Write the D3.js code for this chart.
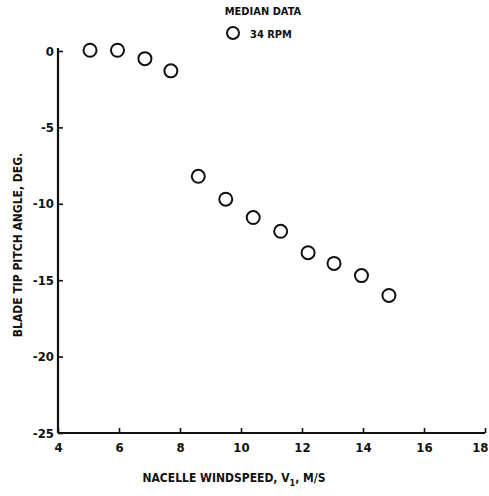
<!DOCTYPE html>
<html>
<head>
<meta charset="utf-8">
<script src="https://cdn.jsdelivr.net/npm/d3@7"></script>
<style>
body { margin: 0; background: #fff; }
text { font-family: "DejaVu Sans Condensed", "Liberation Sans Narrow", sans-serif; font-weight: bold; fill: #111; }
</style>
</head>
<body>
<svg id="chart" width="489" height="496"></svg>
<script>
// median data, 34 rpm
var windspeed = [5.05, 5.95, 6.85, 7.7, 8.6, 9.5, 10.4, 11.3, 12.2, 13.05, 13.95, 14.85];
var pitch = [0.05, 0.05, -0.5, -1.3, -8.2, -9.7, -10.9, -11.8, -13.2, -13.9, -14.7, -16.0];
var xTicks = [4, 6, 8, 10, 12, 14, 16, 18];
var yTicks = [0, -5, -10, -15, -20, -25];

var svg = d3.select("#chart");

var x = d3.scaleLinear().domain([4, 18]).range([58, 485]);
var y = d3.scaleLinear().domain([-25, 0]).range([433, 51]);

// axes - ticks point inward
var xAxis = d3.axisBottom(x).tickValues(xTicks).tickSize(-5).tickPadding(10).tickFormat(d3.format("d"));
var yAxis = d3.axisLeft(y).tickValues(yTicks).tickSize(-5).tickPadding(4).tickFormat(d => d);

var gx = svg.append("g").attr("transform", `translate(0,${y(-25)})`).call(xAxis);
var gy = svg.append("g").attr("transform", `translate(${x(4)},0)`).call(yAxis);

[gx, gy].forEach(function(g) {
    g.select(".domain").attr("stroke", "#111").attr("stroke-width", 2.2);
    g.selectAll(".tick line").attr("stroke", "#111").attr("stroke-width", 1.6);
    g.selectAll(".tick text").style("font-size", "13px").style("font-family", "DejaVu Sans Condensed");
});
gx.select(".domain").attr("d", `M${x(4)},0H${x(18)}`);
gy.select(".domain").attr("d", `M0,${y(-25)}V${y(0) - 3}`);
// last x label sits at the page edge
gx.selectAll(".tick text").filter(d => d === 18).attr("text-anchor", "end").attr("dx", 3);

// points
svg.append("g")
    .selectAll("circle")
    .data(windspeed)
    .join("circle")
    .attr("cx", d => x(d))
    .attr("cy", (d, i) => y(pitch[i]))
    .attr("r", 6.5)
    .attr("fill", "none")
    .attr("stroke", "#111")
    .attr("stroke-width", 2);

// title + legend
svg.append("text")
    .attr("x", 263).attr("y", 15)
    .attr("text-anchor", "middle")
    .style("font-size", "11px")
    .text("MEDIAN DATA");

svg.append("circle")
    .attr("cx", 233).attr("cy", 33).attr("r", 6)
    .attr("fill", "none").attr("stroke", "#111").attr("stroke-width", 2);

svg.append("text")
    .attr("x", 250).attr("y", 38)
    .style("font-size", "11px")
    .text("34 RPM");

// axis titles
var xl = svg.append("text")
    .attr("x", 234).attr("y", 482)
    .attr("text-anchor", "middle")
    .style("font-size", "12px");
xl.append("tspan").text("NACELLE WINDSPEED, V");
xl.append("tspan").attr("dy", 4).style("font-size", "9px").text("1");
xl.append("tspan").attr("dy", -4).text(", M/S");

svg.append("text")
    .attr("transform", "translate(22,245) rotate(-90)")
    .attr("text-anchor", "middle")
    .style("font-size", "12px")
    .text("BLADE TIP PITCH ANGLE, DEG.");
</script>
</body>
</html>
